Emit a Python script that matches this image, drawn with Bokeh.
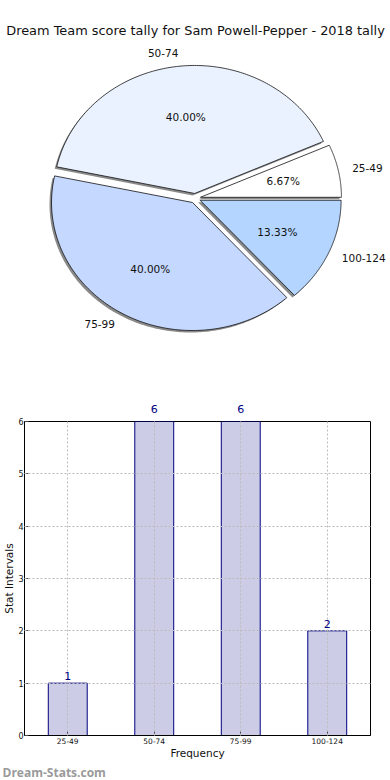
import numpy as np
from bokeh.plotting import figure
from bokeh.models import (Range1d, ColumnDataSource, Label, FixedTicker, LinearAxis, Title)
from bokeh.layouts import column
from bokeh.embed import file_html
from bokeh.resources import INLINE
from bokeh.core.properties import value

# ---------------- data ----------------
title_text = "Dream Team score tally for Sam Powell-Pepper - 2018 tally"
categories = ["25-49", "50-74", "75-99", "100-124"]
counts = [1, 6, 6, 2]
pie_colors = ["#ffffff", "#eaf1ff", "#c5d8ff", "#b3d5ff"]
y_ticks = [0, 1, 2, 3, 4, 5, 6]
y_max = 6
x_axis_label = "Frequency"
y_axis_label = "Stat Intervals"
watermark = "Dream-Stats.com"

# ---------------- layout / style constants ----------------
FONT = "DejaVu Sans"
W = 390
PIE_H = 390
BAR_H = 390
RX, RY = 141.0, 128.0      # pixels per unit radius (x, y)
CX, CY = 194.7, 197.8      # pie centre in px from figure top-left
EXPLODE = 0.038
LABEL_DIST = 1.1
PCT_DIST = 0.6
BAR_LEFT, BAR_RIGHT, BAR_TOP, BAR_BOTTOM = 19, 20, 31, 40
TICK_COLOR = "#444444"
GRID_COLOR = "#bcbcbc"

# ---------------- pie ----------------
pie = figure(width=W, height=PIE_H, output_backend="svg", toolbar_location=None,
             x_range=Range1d(-CX / RX, (W - CX) / RX),
             y_range=Range1d(-(PIE_H - CY) / RY, CY / RY),
             x_axis_type=None, y_axis_type=None, min_border=0,
             outline_line_color=None)
pie.frame_align = False
pie.xgrid.visible = False
pie.ygrid.visible = False

vals = np.array(counts, dtype=float)
fracs = vals / vals.sum()
ends = np.cumsum(fracs) * 2 * np.pi
starts = ends - fracs * 2 * np.pi
mids = (starts + ends) / 2

xs, ys, sxs, sys_ = [], [], [], []
for a0, a1, am in zip(starts, ends, mids):
    t = np.linspace(a0, a1, 160)
    ox, oy = EXPLODE * np.cos(am), EXPLODE * np.sin(am)
    px = np.concatenate([[0.0], np.cos(t), [0.0]]) + ox
    py = np.concatenate([[0.0], np.sin(t), [0.0]]) + oy
    xs.append(px.tolist())
    ys.append(py.tolist())
    sxs.append((px - 2.0 / RX).tolist())
    sys_.append((py - 2.0 / RY).tolist())

pie.patches(sxs, sys_, fill_color="#8a8a8a", line_color=None)
pie.patches(xs, ys, fill_color=pie_colors, line_color="#111111", line_width=0.8)

lab_x = (EXPLODE + LABEL_DIST) * np.cos(mids)
lab_y = (EXPLODE + LABEL_DIST) * np.sin(mids)
lab_align = ["left" if v > 0 else "right" for v in lab_x]
pct_x = (EXPLODE + PCT_DIST) * np.cos(mids)
pct_y = (EXPLODE + PCT_DIST) * np.sin(mids)
pct_text = ["%.2f%%" % (f * 100) for f in fracs]

lab_src = ColumnDataSource(dict(x=lab_x, y=lab_y, t=categories, a=lab_align))
pie.text(x="x", y="y", text="t", text_align="a", text_baseline="middle",
         source=lab_src, text_font=value(FONT), text_font_size="10.5px",
         text_color="#111111")
pct_src = ColumnDataSource(dict(x=pct_x, y=pct_y, t=pct_text))
pie.text(x="x", y="y", text="t", text_align="center", text_baseline="middle",
         source=pct_src, text_font=value(FONT), text_font_size="10.5px",
         text_color="#111111")

pie.add_layout(Label(x=(W / 2 - CX) / RX, y=(CY - 30) / RY, text=title_text,
                     text_align="center", text_baseline="middle",
                     text_font=FONT, text_font_size="12.9px", text_color="#111111"))

# ---------------- bar chart ----------------
n = len(categories)
slots = (np.arange(n) + 0.5).tolist()          # one unit-wide slot per category

bar = figure(width=W, height=BAR_H, output_backend="svg", toolbar_location=None,
             x_range=Range1d(0, n), y_range=Range1d(0, y_max),
             min_border_left=BAR_LEFT, min_border_right=BAR_RIGHT,
             min_border_top=BAR_TOP, min_border_bottom=BAR_BOTTOM,
             outline_line_color="black", outline_line_width=1)
bar.frame_align = False
bottom_axis = bar.xaxis[0]
left_axis = bar.yaxis[0]

src = ColumnDataSource(dict(x=slots, cnt=counts))
bar.vbar(x="x", top="cnt", width=0.45, source=src, fill_color="navy",
         fill_alpha=0.2, line_color="navy", line_width=1)

# value labels: inside the frame for short bars; on a top axis for bars reaching the top
full_pos = []
for s, c in zip(slots, counts):
    if c < y_max:
        bar.add_layout(Label(x=s, y=c, text=str(c), text_align="center",
                             text_baseline="bottom", y_offset=3, text_color="navy",
                             text_font=FONT, text_font_size="11px"))
    else:
        full_pos.append(s)
top_axis = LinearAxis(
    ticker=FixedTicker(ticks=full_pos),
    major_label_overrides={p: str(y_max) for p in full_pos},
    major_label_text_color="navy", major_label_text_font=FONT,
    major_label_text_font_size="11px", major_label_standoff=3,
    axis_line_color=None, major_tick_line_color=None, minor_tick_line_color=None)
bar.add_layout(top_axis, "above")

bottom_axis.ticker = FixedTicker(ticks=slots)
bottom_axis.major_label_overrides = {s: c for s, c in zip(slots, categories)}
bar.xgrid.ticker = FixedTicker(ticks=slots)
left_axis.ticker = FixedTicker(ticks=y_ticks)
bar.ygrid.ticker = FixedTicker(ticks=y_ticks)
for g in (bar.xgrid, bar.ygrid):
    g.grid_line_color = GRID_COLOR
    g.grid_line_dash = "2 2"
    g.grid_line_width = 1
    g.level = "annotation"

for ax in (bottom_axis, left_axis):
    ax.major_tick_in = 4
    ax.major_tick_out = 0
    ax.minor_tick_line_color = None
    ax.axis_line_color = "black"
    ax.major_tick_line_color = TICK_COLOR
    ax.major_label_text_font = FONT
    ax.major_label_text_color = "#111111"
    ax.axis_label_text_font = FONT
    ax.axis_label_text_font_style = "normal"
    ax.axis_label_text_font_size = "10.5px"
    ax.axis_label_text_color = "#111111"
    ax.axis_label_text_line_height = 1.0
    ax.major_label_standoff = 2

bottom_axis.axis_label_standoff = 0
left_axis.axis_label_standoff = 0
left_axis.major_label_standoff = 1
bottom_axis.major_label_text_font_size = "7.5px"
left_axis.major_label_text_font_size = "8px"
bottom_axis.axis_label = x_axis_label
left_axis.axis_label = y_axis_label

bar.add_layout(Title(text=watermark, align="left", offset=-22, standoff=0,
                     text_font="Open Sans", text_font_size="12px",
                     text_font_style="bold", text_color="#9a9a9a",
                     text_line_height=0.9), "below")

layout = column(pie, bar, spacing=0)
open("out.html", "w").write(file_html(layout, INLINE))
